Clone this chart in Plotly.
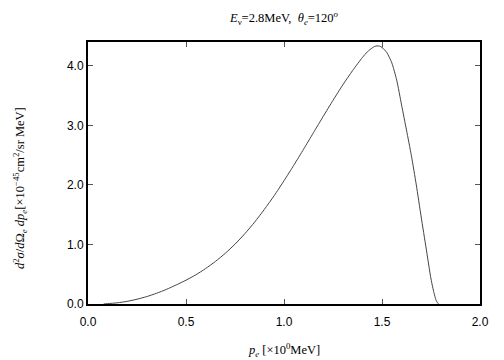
import plotly.graph_objects as go

pe = [0.08, 0.1, 0.15, 0.2, 0.25, 0.3, 0.35, 0.4, 0.45, 0.5, 0.55, 0.6, 0.65, 0.7,
      0.75, 0.8, 0.85, 0.9, 0.95, 1.0, 1.05, 1.1, 1.15, 1.2, 1.25, 1.3, 1.35, 1.4, 1.425,
      1.45, 1.4625, 1.475, 1.4875, 1.5, 1.525, 1.55, 1.575, 1.6, 1.625, 1.65, 1.675, 1.7,
      1.725, 1.75, 1.765, 1.775, 1.785, 1.79]
xsec = [0.0, 0.006, 0.02, 0.045, 0.08, 0.125, 0.18, 0.245, 0.32, 0.40, 0.49, 0.595,
        0.715, 0.85, 1.005, 1.18, 1.375, 1.59, 1.82, 2.07, 2.33, 2.60, 2.875, 3.15, 3.42,
        3.68, 3.92, 4.14, 4.235, 4.30, 4.325, 4.335, 4.33, 4.31, 4.22, 4.05, 3.76, 3.34,
        2.92, 2.49, 2.00, 1.46, 0.94, 0.42, 0.19, 0.07, 0.01, 0.0]

xticks = [0.0, 0.5, 1.0, 1.5, 2.0]
yticks = [0.0, 1.0, 2.0, 3.0, 4.0]

# the page shows the figure shifted by the body margin (8 px)
W, H = 504, 360
L, R, T, B = 80, 32, 34, 64
PW, PH = W - L - R, H - T - B

fig = go.Figure()
fig.add_trace(go.Scatter(x=pe, y=xsec, mode="lines", line_shape="spline",
                         line=dict(color="#444444", width=1, smoothing=0.6),
                         showlegend=False))

axis_common = dict(showline=True, linecolor="black", linewidth=2, mirror="ticks",
                   ticks="inside", ticklen=5, tickcolor="#555555", tickwidth=1,
                   showgrid=False, zeroline=False,
                   tickfont=dict(family="Liberation Sans, Arial", size=12, color="black"))
fig.update_xaxes(range=[0, 2.0], tickvals=xticks, ticktext=[f"{v:.1f}" for v in xticks],
                 ticklabelstandoff=6, **axis_common)
fig.update_yaxes(range=[0, 4.4], tickvals=yticks, ticktext=[f"{v:.1f}" for v in yticks],
                 **axis_common)

serif = dict(family="Liberation Serif, Times New Roman", size=12.5, color="black")
fig.add_annotation(text="<i>E</i><sub>ν</sub>=2.8MeV,  <i>θ</i><sub><i>e</i></sub>=120<sup><i>o</i></sup>",
                   xref="paper", yref="paper", x=0.5, y=1 + (T - 10) / PH,
                   showarrow=False, font=serif, xanchor="center", yanchor="middle")
fig.add_annotation(text="<i>p</i><sub><i>e</i></sub> [×10<sup>0</sup>MeV]",
                   xref="paper", yref="paper", x=0.5, y=-(342 - (H - B)) / PH,
                   showarrow=False, font=serif, xanchor="center", yanchor="middle")
fig.add_annotation(text="<i>d</i><sup>2</sup><i>σ</i>/<i>d</i>Ω<sub><i>e</i></sub> <i>dp</i><sub><i>e</i></sub>[×10<sup>−45</sup>cm<sup>2</sup>/sr MeV]",
                   xref="paper", yref="paper", x=(12 - L) / PW,
                   y=1 - (180 - T) / PH, textangle=-90,
                   showarrow=False, font=serif, xanchor="center", yanchor="middle")

fig.update_layout(width=W, height=H, margin=dict(l=L, r=R, t=T, b=B),
                  plot_bgcolor="white", paper_bgcolor="white")
fig.write_html("out.html")
